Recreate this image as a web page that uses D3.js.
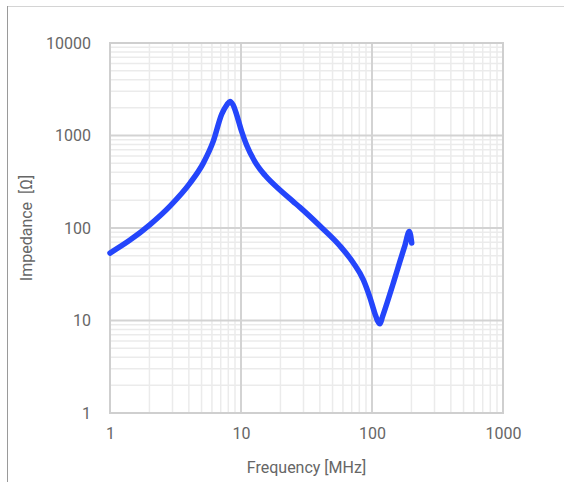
<!DOCTYPE html>
<html>
<head>
<meta charset="utf-8">
<script src="https://cdn.jsdelivr.net/npm/d3@7"></script>
<style>
  body { margin: 0; background: #fff; }
  svg { display: block; font-family: Roboto, "Liberation Sans", Arial, sans-serif; }
</style>
</head>
<body>
<div id="chart"></div>
<script>
// Impedance curve
const frequency = [1, 1.421, 2.02, 2.871, 4.08, 5.155, 6.145, 7.12, 7.8, 8.24, 8.69, 9.27, 10.12, 11.05, 12.79, 15.25, 19.27, 25.06, 28.2, 40.1, 57, 71.9, 85.9, 96.6, 105.4, 110, 115, 120.3, 146, 163.6, 178.5, 192.6, 196.7, 201];
const impedance = [53.6, 74, 109, 172.6, 305.6, 503, 869, 1699, 2148, 2333, 2148, 1675, 1105, 784, 519, 371, 267, 193, 167, 105, 63.9, 42.1, 27.5, 17.6, 11.8, 10.0, 9.2, 11.0, 25.8, 43.8, 65, 91.7, 84.4, 68.7];

const xTicks = [1, 10, 100, 1000];
const yTicks = [1, 10, 100, 1000, 10000];
const xLabel = "Frequency [MHz]";
const yLabel = "Impedance  [Ω]";

const width = 564, height = 482;
const margin = { left: 110, right: 61, top: 43, bottom: 69 };
const textColor = "#666666";

const svg = d3.select("#chart")
  .append("svg")
  .attr("width", width)
  .attr("height", height);

// container frame (top + left edges)
svg.append("line")
  .attr("x1", 7).attr("x2", width).attr("y1", 6.5).attr("y2", 6.5)
  .style("stroke", "#d4d4d4").style("stroke-width", 1);
svg.append("line")
  .attr("x1", 7.5).attr("x2", 7.5).attr("y1", 6).attr("y2", height)
  .style("stroke", "#9a9a9a").style("stroke-width", 1);

const x = d3.scaleLog()
  .domain([1, 1000])
  .range([margin.left, width - margin.right]);
const y = d3.scaleLog()
  .domain([1, 10000])
  .range([height - margin.bottom, margin.top]);

// minor values 2..9 in each decade
const minor = (lo, hi) => {
  const out = [];
  for (let d = lo; d < hi; d *= 10) {
    for (let k = 2; k <= 9; k++) out.push(d * k);
  }
  return out;
};

const grid = svg.append("g").attr("id", "grid");

grid.selectAll(".xminor")
  .data(minor(1, 1000))
  .enter()
  .append("line")
  .attr("class", "xminor")
  .attr("x1", d => x(d)).attr("x2", d => x(d))
  .attr("y1", y(1)).attr("y2", y(10000))
  .style("stroke", "#ebebeb").style("stroke-width", 1.5);

grid.selectAll(".yminor")
  .data(minor(1, 10000))
  .enter()
  .append("line")
  .attr("class", "yminor")
  .attr("y1", d => y(d)).attr("y2", d => y(d))
  .attr("x1", x(1)).attr("x2", x(1000))
  .style("stroke", "#ebebeb").style("stroke-width", 1.5);

grid.selectAll(".xmajor")
  .data(xTicks)
  .enter()
  .append("line")
  .attr("class", "xmajor")
  .attr("x1", d => x(d)).attr("x2", d => x(d))
  .attr("y1", y(1)).attr("y2", y(10000))
  .style("stroke", "#d3d3d3").style("stroke-width", 2);

grid.selectAll(".ymajor")
  .data(yTicks)
  .enter()
  .append("line")
  .attr("class", "ymajor")
  .attr("y1", d => y(d)).attr("y2", d => y(d))
  .attr("x1", x(1)).attr("x2", x(1000))
  .style("stroke", "#d3d3d3").style("stroke-width", 2);

// plot frame
svg.append("rect")
  .attr("x", x(1)).attr("y", y(10000))
  .attr("width", x(1000) - x(1)).attr("height", y(1) - y(10000))
  .style("fill", "none").style("stroke", "#cfcfcf").style("stroke-width", 2);

// axes (labels only)
const xAxis = svg.append("g")
  .attr("transform", `translate(0, ${y(1) + 12})`)
  .call(d3.axisBottom(x).tickValues(xTicks).tickFormat(d3.format("d")).tickSize(0));
const yAxis = svg.append("g")
  .attr("transform", `translate(${x(1) - 16}, 0)`)
  .call(d3.axisLeft(y).tickValues(yTicks).tickFormat(d3.format("d")).tickSize(0));

[xAxis, yAxis].forEach(a => {
  a.select(".domain").remove();
  a.selectAll("text")
    .style("font-size", "16px")
    .style("fill", textColor)
    .style("font-family", "Roboto, 'Liberation Sans', Arial, sans-serif");
});
xAxis.selectAll("text").attr("dy", "0.71em");

svg.append("text")
  .attr("x", (x(1) + x(1000)) / 2)
  .attr("y", 473)
  .attr("text-anchor", "middle")
  .style("font-size", "16px")
  .style("fill", textColor)
  .text(xLabel);

svg.append("text")
  .attr("transform", `translate(32, ${(y(1) + y(10000)) / 2}) rotate(-90)`)
  .attr("text-anchor", "middle")
  .style("font-size", "16px")
  .style("fill", textColor)
  .style("white-space", "pre")
  .text(yLabel);

// impedance curve
const pts = frequency.map((f, i) => [f, impedance[i]]);
const line = d3.line()
  .x(d => x(d[0]))
  .y(d => y(d[1]))
  .curve(d3.curveMonotoneX);

svg.append("path")
  .datum(pts)
  .attr("d", line)
  .style("fill", "none")
  .style("stroke", "#2445fb")
  .style("stroke-width", 5.5)
  .style("stroke-linecap", "round")
  .style("stroke-linejoin", "round");
</script>
</body>
</html>
